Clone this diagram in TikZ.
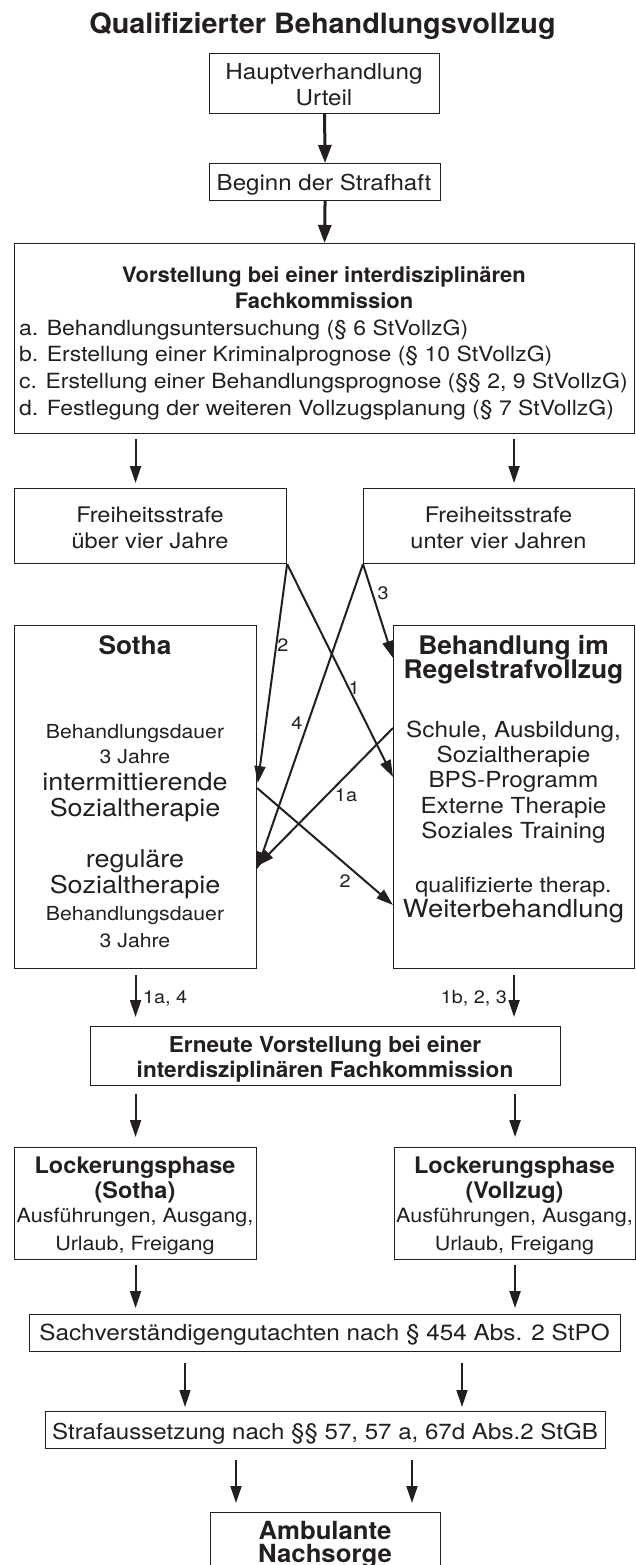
\documentclass[tikz,border=0pt]{standalone}
\usepackage{fontspec}
\setmainfont[FakeStretch=1.1]{TeX Gyre Heros}
\newfontfamily\hdfam[FakeStretch=1.03]{TeX Gyre Heros}
\usetikzlibrary{arrows.meta}
\definecolor{ink}{HTML}{231F20}
\begin{document}
\begin{tikzpicture}[x=1pt,y=-1pt,
  box/.style={draw=ink, line width=1.1pt, rectangle, inner sep=0pt, anchor=north west},
  t/.style={anchor=base, inner sep=0pt, text=ink},
  tl/.style={anchor=base west, inner sep=0pt, text=ink},
  lab/.style={anchor=center, inner sep=0pt, text=ink, font=\fontsize{18}{20}\selectfont},
  arr/.style={draw=ink, line width=2pt, -{Triangle[length=17pt,width=11pt]}},
  arrthick/.style={draw=ink, line width=3pt, -{Triangle[length=18pt,width=13pt]}},
  arrthin/.style={draw=ink, line width=1.3pt, -{Triangle[length=17pt,width=11pt]}}
]
\fill[white] (0,0) rectangle (636,1565);
\useasboundingbox (0,0) rectangle (636,1565);
\clip (0,0) rectangle (636,1565);

% boxes
\node[box, minimum width=230pt, minimum height=60pt] (haupt) at (209,53) {};
\node[box, minimum width=231pt, minimum height=37pt] (beginn) at (209,163) {};
\node[box, minimum width=620pt, minimum height=190pt] (big) at (14,243) {};
\node[box, minimum width=272pt, minimum height=75pt] (fl) at (14,488) {};
\node[box, minimum width=271pt, minimum height=75pt] (fr) at (363,488) {};
\node[box, minimum width=242pt, minimum height=343pt] (sotha) at (14,625) {};
\node[box, minimum width=241pt, minimum height=343pt] (regel) at (393,625) {};
\node[box, minimum width=470pt, minimum height=59pt] (ern) at (90,1026) {};
\node[box, minimum width=242pt, minimum height=112pt] (ll) at (14,1147) {};
\node[box, minimum width=241pt, minimum height=112pt] (lr) at (394,1147) {};
\node[box, minimum width=591pt, minimum height=37pt] (sach) at (29,1314) {};
\node[box, minimum width=560pt, minimum height=37pt] (straf) at (45,1411) {};
\node[box, minimum width=230pt, minimum height=120pt] (amb) at (210,1512) {};

% texts
\node[t, font=\hdfam\bfseries\fontsize{28}{32}\selectfont] (title) at (322.5,34) {Qualifizierter Behandlungsvollzug};

\node[t, font=\fontsize{22}{26}\selectfont] (h1) at (324,80) {Hauptverhandlung};
\node[t, font=\fontsize{22}{26}\selectfont] (h2) at (324,106) {Urteil};
\node[t, font=\fontsize{21.9}{26}\selectfont] (b1) at (324,191) {Beginn der Strafhaft};

\node[t, font=\hdfam\bfseries\fontsize{21.3}{26}\selectfont] (v1) at (324,282) {Vorstellung bei einer interdisziplinären};
\node[t, font=\hdfam\bfseries\fontsize{21.3}{26}\selectfont] (v2) at (324,308.6) {Fachkommission};
\node[tl, font=\fontsize{20.9}{26}\selectfont] (va) at (19,335.2) {a. Behandlungsuntersuchung (§ 6 StVollzG)};
\node[tl, font=\fontsize{20.9}{26}\selectfont] (vb) at (19,361.8) {b. Erstellung einer Kriminalprognose (§ 10 StVollzG)};
\node[tl, font=\fontsize{20.9}{26}\selectfont] (vc) at (19,388.4) {c. Erstellung einer Behandlungsprognose (§§ 2, 9 StVollzG)};
\node[tl, font=\fontsize{20.9}{26}\selectfont] (vd) at (19,415) {d. Festlegung der weiteren Vollzugsplanung (§ 7 StVollzG)};

\node[t, font=\fontsize{21.4}{26}\selectfont] (fl1) at (150,522) {Freiheitsstrafe};
\node[t, font=\fontsize{21.4}{26}\selectfont] (fl2) at (150,548) {über vier Jahre};
\node[t, font=\fontsize{21.4}{26}\selectfont] (fr1) at (498.5,522) {Freiheitsstrafe};
\node[t, font=\fontsize{21.4}{26}\selectfont] (fr2) at (498.5,548) {unter vier Jahren};

\node[t, font=\hdfam\bfseries\fontsize{25.5}{28}\selectfont] (s0) at (135,654) {Sotha};
\node[t, font=\fontsize{19.3}{24}\selectfont] (s1) at (135,738) {Behandlungsdauer};
\node[t, font=\fontsize{19.3}{24}\selectfont] (s2) at (135,763) {3 Jahre};
\node[t, font=\fontsize{24.5}{28}\selectfont] (s3) at (135,790) {intermittierende};
\node[t, font=\fontsize{24.5}{28}\selectfont] (s4) at (135,816) {Sozialtherapie};
\node[t, font=\fontsize{24.5}{28}\selectfont] (s5) at (135,867) {reguläre};
\node[t, font=\fontsize{24.5}{28}\selectfont] (s6) at (135,893) {Sozialtherapie};
\node[t, font=\fontsize{19.3}{24}\selectfont] (s7) at (135,920) {Behandlungsdauer};
\node[t, font=\fontsize{19.3}{24}\selectfont] (s8) at (135,947) {3 Jahre};

\node[t, font=\hdfam\bfseries\fontsize{25.6}{28}\selectfont] (r1) at (513.5,654) {Behandlung im};
\node[t, font=\hdfam\bfseries\fontsize{25.6}{28}\selectfont] (r2) at (513.5,678) {Regelstrafvollzug};
\node[t, font=\fontsize{22.1}{26}\selectfont] (r3) at (513.5,737) {Schule, Ausbildung,};
\node[t, font=\fontsize{22.1}{26}\selectfont] (r4) at (513.5,762) {Sozialtherapie};
\node[t, font=\fontsize{22.1}{26}\selectfont] (r5) at (513.5,787) {BPS-Programm};
\node[t, font=\fontsize{22.1}{26}\selectfont] (r6) at (513.5,813) {Externe Therapie};
\node[t, font=\fontsize{22.1}{26}\selectfont] (r7) at (513.5,838) {Soziales Training};
\node[t, font=\fontsize{21.1}{26}\selectfont] (r8) at (513.5,892) {qualifizierte therap.};
\node[t, font=\fontsize{24.9}{28}\selectfont] (r9) at (513.5,917) {Weiterbehandlung};

\node[t, font=\hdfam\bfseries\fontsize{21.9}{25}\selectfont] (e1) at (325,1052) {Erneute Vorstellung bei einer};
\node[t, font=\hdfam\bfseries\fontsize{21.9}{25}\selectfont] (e2) at (325,1077) {interdisziplinären Fachkommission};

\node[t, font=\hdfam\bfseries\fontsize{22.8}{25}\selectfont] (ll1) at (135,1173) {Lockerungsphase};
\node[t, font=\hdfam\bfseries\fontsize{22.8}{25}\selectfont] (ll2) at (135,1198) {(Sotha)};
\node[t, font=\fontsize{19.6}{25}\selectfont] (ll3) at (135,1222) {Ausführungen, Ausgang,};
\node[t, font=\fontsize{19.6}{25}\selectfont] (ll4) at (135,1250) {Urlaub, Freigang};
\node[t, font=\hdfam\bfseries\fontsize{22.8}{25}\selectfont] (lr1) at (514.5,1173) {Lockerungsphase};
\node[t, font=\hdfam\bfseries\fontsize{22.8}{25}\selectfont] (lr2) at (514.5,1198) {(Vollzug)};
\node[t, font=\fontsize{19.6}{25}\selectfont] (lr3) at (514.5,1222) {Ausführungen, Ausgang,};
\node[t, font=\fontsize{19.6}{25}\selectfont] (lr4) at (514.5,1250) {Urlaub, Freigang};

\node[t, font=\fontsize{22.1}{26}\selectfont] (sa1) at (324.5,1340) {Sachverständigengutachten nach § 454 Abs. 2 StPO};
\node[t, font=\fontsize{21.9}{26}\selectfont] (st1) at (325,1439) {Strafaussetzung nach §§ 57, 57 a, 67d Abs.2 StGB};

\node[t, font=\hdfam\bfseries\fontsize{25}{28}\selectfont] (am1) at (325,1539) {Ambulante};
\node[t, font=\hdfam\bfseries\fontsize{25}{28}\selectfont] (am2) at (325,1562) {Nachsorge};

% helper coordinates
\coordinate (y658) at (0,658);
\coordinate (y728) at (0,728);
\coordinate (y777) at (0,777);
\coordinate (y788) at (0,788);
\coordinate (y866) at (0,866);
\coordinate (y869) at (0,869);
\coordinate (y905) at (0,905);
\coordinate (x185) at (185,0);
\coordinate (x462) at (462,0);
\coordinate (x236) at (236,0);
\coordinate (x412) at (412,0);

% connectors
\draw[arrthick] (haupt.south) -- (beginn.north);
\draw[arrthick] (beginn.south) -- (big.north);
\draw[arr, shorten <=5pt, shorten >=5pt] (big.south -| sotha.north) -- (fl.north -| sotha.north);
\draw[arr, shorten <=5pt, shorten >=5pt] (big.south -| regel.north) -- (fr.north -| regel.north);

\draw[arr, shorten >=5pt] (fl.south east) -- (sotha.east |- y788);
\draw[arr] (fl.south east) -- (regel.west |- y777);
\draw[arr] (fr.south west) -- (regel.west |- y658);
\draw[arr] (fr.south west) -- (sotha.east |- y869);
\draw[arr] (regel.west |- y728) -- (sotha.east |- y866);
\draw[arr] (sotha.east |- y788) -- (regel.west |- y905);

\node[lab] (l2a) at (283,645) {2};
\node[lab] (l1) at (354,688) {1};
\node[lab] (l3) at (383,593) {3};
\node[lab] (l4) at (297,723) {4};
\node[lab] (l1a) at (346,795) {1a};
\node[lab] (l2b) at (345,881) {2};

\draw[arr, shorten <=6pt, shorten >=9pt] (sotha.south) -- (sotha.south |- ern.north);
\draw[arr, shorten <=6pt, shorten >=9pt] (regel.south) -- (regel.south |- ern.north);
\node[anchor=base west, inner sep=0pt, text=ink, font=\fontsize{18}{20}\selectfont] (lab1a4) at (143,1003) {1a, 4};
\node[anchor=base east, inner sep=0pt, text=ink, font=\fontsize{18}{20}\selectfont] (lab1b23) at (507,1003) {1b, 2, 3};

\draw[arr, shorten <=8pt, shorten >=10pt] (ern.south -| ll.north) -- (ll.north);
\draw[arr, shorten <=8pt, shorten >=10pt] (ern.south -| lr.north) -- (lr.north);
\draw[arr, shorten <=5pt, shorten >=6pt] (ll.south) -- (ll.south |- sach.north);
\draw[arr, shorten <=5pt, shorten >=6pt] (lr.south) -- (lr.south |- sach.north);
\draw[arrthin, shorten <=11pt, shorten >=4pt] (sach.south -| x185) -- (straf.north -| x185);
\draw[arrthin, shorten <=11pt, shorten >=4pt] (sach.south -| x462) -- (straf.north -| x462);
\draw[arr, shorten <=11pt, shorten >=9pt] (straf.south -| x236) -- (amb.north -| x236);
\draw[arr, shorten <=11pt, shorten >=9pt] (straf.south -| x412) -- (amb.north -| x412);
\end{tikzpicture}
\end{document}
